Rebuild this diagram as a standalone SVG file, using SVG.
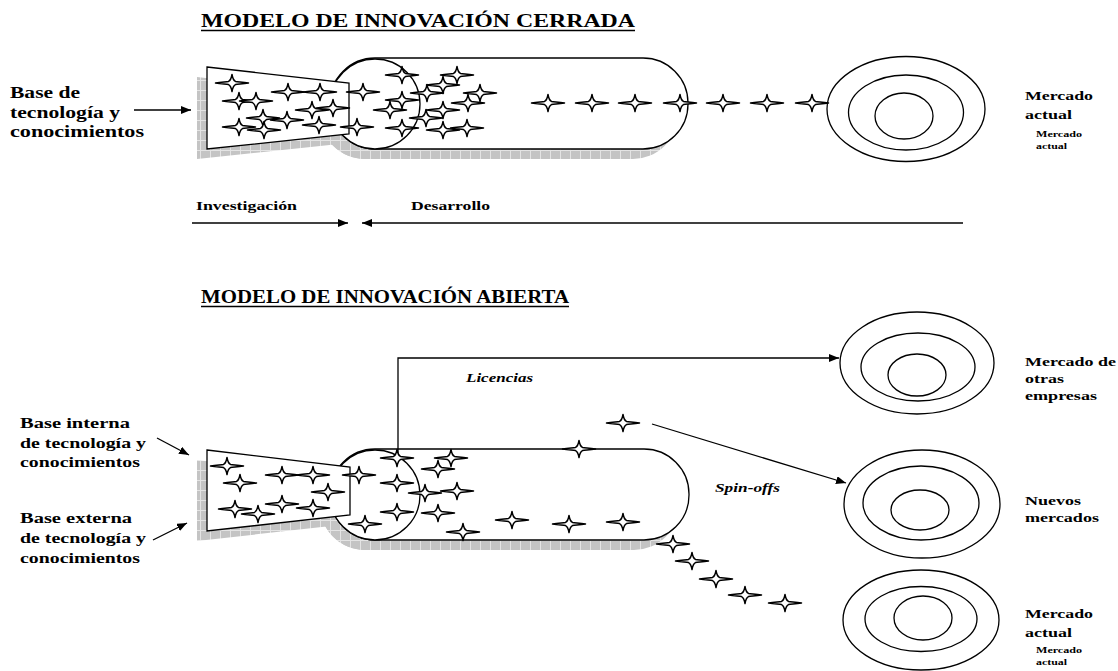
<svg xmlns="http://www.w3.org/2000/svg" xmlns:xlink="http://www.w3.org/1999/xlink" width="1118" height="671" viewBox="0 0 1118 671">
  <defs>
    <style>
      .t { font-family: "Liberation Serif", "Times New Roman", serif; font-weight: bold; fill: #000; }
      .ti { font-style: italic; }
      .ln { stroke: #000; stroke-width: 1.3; fill: none; }
      .shape { fill: #fff; stroke: #000; stroke-width: 1.3; }
      .shadow { fill: url(#grid); stroke: none; }
    </style>
    <pattern id="grid" width="10" height="10" patternUnits="userSpaceOnUse">
      <rect width="10" height="10" fill="#c4c4c4"/>
      <path d="M0 0.5H10M0.5 0V10" stroke="#e4e4e4" stroke-width="1"/>
    </pattern>
    <marker id="arr" viewBox="0 0 10 8" refX="10" refY="4" markerWidth="10" markerHeight="8" markerUnits="userSpaceOnUse" orient="auto">
      <path d="M0 0L10 4L0 8Z" fill="#000"/>
    </marker>
    <!-- four-point spark used for ideas / projects: long flat arms, small pointed centre -->
    <path id="star" d="M-16.5,0 C-10,-1 -6,-1.1 -3.5,-1.6 C-1.6,-2.6 -0.6,-5 0,-8.5 C0.6,-5 1.6,-2.6 3.5,-1.6 C6,-1.1 10,-1 16.5,0 C10,1 6,1.1 3.5,1.6 C1.6,2.6 0.6,5 0,8.5 C-0.6,5 -1.6,2.6 -3.5,1.6 C-6,1.1 -10,1 -16.5,0 Z" fill="#fff" stroke="#000" stroke-width="1.5" stroke-linejoin="round"/>
  </defs>

  <rect width="1118" height="671" fill="#fff"/>

  <!-- ================= CLOSED INNOVATION ================= -->
  <g id="title-cerrada">
    <text class="t" x="201" y="27" font-size="19" textLength="434" lengthAdjust="spacingAndGlyphs">MODELO DE INNOVACIÓN CERRADA</text>
    <line class="ln" x1="201" y1="30.5" x2="635" y2="30.5" stroke-width="1.5"/>
  </g>

  <g id="base-cerrada">
    <text class="t" font-size="16" x="10" y="98" textLength="70" lengthAdjust="spacingAndGlyphs">Base de</text>
    <text class="t" font-size="16" x="10" y="118" textLength="110" lengthAdjust="spacingAndGlyphs">tecnología y</text>
    <text class="t" font-size="16" x="10" y="137" textLength="134" lengthAdjust="spacingAndGlyphs">conocimientos</text>
  </g>

  <g id="funnel-cerrada">
    <g transform="translate(-10,10)">
      <rect class="shadow" x="330" y="58" width="358" height="91" rx="45" ry="45"/>
      <circle class="shadow" cx="375" cy="104" r="45"/>
      <polygon class="shadow" points="207,67 349,83 349,134 207,149"/>
    </g>
    <rect class="shape" x="330" y="58" width="358" height="91" rx="45" ry="45"/>
    <circle class="shape" cx="375" cy="104" r="45"/>
    <polygon class="shape" points="207,67 349,83 349,134 207,149"/>
  </g>

  <g id="mercado-actual-1">
    <ellipse class="shape" cx="906" cy="109" rx="79" ry="52.5"/>
    <ellipse class="shape" cx="906" cy="112.5" rx="57.5" ry="37.5"/>
    <ellipse class="shape" cx="904" cy="116" rx="29" ry="23"/>
    <text class="t" font-size="13.5" x="1025" y="100" textLength="68" lengthAdjust="spacingAndGlyphs">Mercado</text>
    <text class="t" font-size="13.5" x="1025" y="119" textLength="47" lengthAdjust="spacingAndGlyphs">actual</text>
    <text class="t" font-size="9" x="1036" y="137" textLength="46" lengthAdjust="spacingAndGlyphs">Mercado</text>
    <text class="t" font-size="9" x="1036" y="149" textLength="31" lengthAdjust="spacingAndGlyphs">actual</text>
  </g>

  <g id="stars-cerrada">
    <use xlink:href="#star" x="232" y="83"/>
    <use xlink:href="#star" x="239" y="101"/>
    <use xlink:href="#star" x="256" y="101"/>
    <use xlink:href="#star" x="288" y="92"/>
    <use xlink:href="#star" x="320" y="92"/>
    <use xlink:href="#star" x="312" y="110"/>
    <use xlink:href="#star" x="333" y="108"/>
    <use xlink:href="#star" x="239" y="127"/>
    <use xlink:href="#star" x="263" y="118"/>
    <use xlink:href="#star" x="264" y="130"/>
    <use xlink:href="#star" x="287" y="120"/>
    <use xlink:href="#star" x="319" y="125"/>
    <use xlink:href="#star" x="363" y="92"/>
    <use xlink:href="#star" x="357" y="127"/>
    <use xlink:href="#star" x="402" y="75"/>
    <use xlink:href="#star" x="402" y="100"/>
    <use xlink:href="#star" x="390" y="110"/>
    <use xlink:href="#star" x="402" y="128"/>
    <use xlink:href="#star" x="457" y="75"/>
    <use xlink:href="#star" x="443" y="85"/>
    <use xlink:href="#star" x="427" y="93"/>
    <use xlink:href="#star" x="480" y="93"/>
    <use xlink:href="#star" x="468" y="103"/>
    <use xlink:href="#star" x="443" y="110"/>
    <use xlink:href="#star" x="426" y="118"/>
    <use xlink:href="#star" x="443" y="130"/>
    <use xlink:href="#star" x="467" y="128"/>
    <use xlink:href="#star" x="548" y="103"/>
    <use xlink:href="#star" x="592" y="103"/>
    <use xlink:href="#star" x="635" y="103"/>
    <use xlink:href="#star" x="680" y="103"/>
    <use xlink:href="#star" x="723" y="103"/>
    <use xlink:href="#star" x="767" y="103"/>
    <use xlink:href="#star" x="812" y="103"/>
  </g>

  <g id="fases">
    <text class="t" font-size="13" x="196" y="210" textLength="101" lengthAdjust="spacingAndGlyphs">Investigación</text>
    <text class="t" font-size="13" x="411" y="210" textLength="79" lengthAdjust="spacingAndGlyphs">Desarrollo</text>
  </g>

  <!-- ================= OPEN INNOVATION ================= -->
  <g id="title-abierta">
    <text class="t" x="201" y="303" font-size="19" textLength="368" lengthAdjust="spacingAndGlyphs">MODELO DE INNOVACIÓN ABIERTA</text>
    <line class="ln" x1="201" y1="306.5" x2="569" y2="306.5" stroke-width="1.5"/>
  </g>

  <g id="base-interna">
    <text class="t" font-size="15.5" x="20" y="428" textLength="110" lengthAdjust="spacingAndGlyphs">Base interna</text>
    <text class="t" font-size="15.5" x="20" y="448" textLength="126" lengthAdjust="spacingAndGlyphs">de tecnología y</text>
    <text class="t" font-size="15.5" x="20" y="467" textLength="120" lengthAdjust="spacingAndGlyphs">conocimientos</text>
  </g>

  <g id="base-externa">
    <text class="t" font-size="15.5" x="20" y="523" textLength="112" lengthAdjust="spacingAndGlyphs">Base externa</text>
    <text class="t" font-size="15.5" x="20" y="543" textLength="126" lengthAdjust="spacingAndGlyphs">de tecnología y</text>
    <text class="t" font-size="15.5" x="20" y="563" textLength="120" lengthAdjust="spacingAndGlyphs">conocimientos</text>
  </g>

  <g id="funnel-abierta">
    <g transform="translate(-10,10)">
      <rect class="shadow" x="330" y="449" width="359" height="91" rx="45" ry="45"/>
      <circle class="shadow" cx="375" cy="495" r="45"/>
      <polygon class="shadow" points="207,450 350,467 350,515 207,531"/>
    </g>
    <rect class="shape" x="330" y="449" width="359" height="91" rx="45" ry="45"/>
    <circle class="shape" cx="375" cy="495" r="45"/>
    <polygon class="shape" points="207,450 350,467 350,515 207,531"/>
  </g>

  <g id="mercado-otras">
    <ellipse class="shape" cx="917" cy="363" rx="77" ry="51"/>
    <ellipse class="shape" cx="918" cy="367" rx="57" ry="34"/>
    <ellipse class="shape" cx="917" cy="375" rx="29" ry="21"/>
    <text class="t" font-size="13.5" x="1025" y="366" textLength="91" lengthAdjust="spacingAndGlyphs">Mercado de</text>
    <text class="t" font-size="13.5" x="1025" y="383" textLength="39" lengthAdjust="spacingAndGlyphs">otras</text>
    <text class="t" font-size="13.5" x="1025" y="400" textLength="72" lengthAdjust="spacingAndGlyphs">empresas</text>
  </g>

  <g id="nuevos-mercados">
    <ellipse class="shape" cx="922" cy="504" rx="78" ry="54"/>
    <ellipse class="shape" cx="921" cy="503" rx="58" ry="37"/>
    <ellipse class="shape" cx="920" cy="510" rx="29" ry="20"/>
    <text class="t" font-size="13.5" x="1025" y="505" textLength="56" lengthAdjust="spacingAndGlyphs">Nuevos</text>
    <text class="t" font-size="13.5" x="1025" y="522" textLength="74" lengthAdjust="spacingAndGlyphs">mercados</text>
  </g>

  <g id="mercado-actual-2">
    <ellipse class="shape" cx="921" cy="620" rx="78" ry="50"/>
    <ellipse class="shape" cx="921" cy="619" rx="56" ry="32.5"/>
    <ellipse class="shape" cx="923" cy="618" rx="29" ry="22"/>
    <text class="t" font-size="13.5" x="1025" y="618" textLength="68" lengthAdjust="spacingAndGlyphs">Mercado</text>
    <text class="t" font-size="13.5" x="1025" y="637" textLength="47" lengthAdjust="spacingAndGlyphs">actual</text>
    <text class="t" font-size="9" x="1036" y="653" textLength="46" lengthAdjust="spacingAndGlyphs">Mercado</text>
    <text class="t" font-size="9" x="1036" y="665" textLength="31" lengthAdjust="spacingAndGlyphs">actual</text>
  </g>

  <!-- connectors -->
  <g id="connectors">
    <line class="ln" x1="134" y1="110" x2="191" y2="110" marker-end="url(#arr)"/>
    <line class="ln" x1="192" y1="223" x2="348" y2="223" marker-end="url(#arr)"/>
    <line class="ln" x1="963" y1="223" x2="362" y2="223" marker-end="url(#arr)"/>
    <line class="ln" x1="157" y1="438" x2="189" y2="455" marker-end="url(#arr)"/>
    <line class="ln" x1="153" y1="540" x2="187" y2="523" marker-end="url(#arr)"/>
    <polyline class="ln" points="398,458 398,358 839,358" marker-end="url(#arr)"/>
    <line class="ln" x1="652" y1="424" x2="846" y2="483" marker-end="url(#arr)"/>
  </g>

  <g id="flujo-labels">
    <text class="t ti" font-size="13" x="466" y="382" textLength="67" lengthAdjust="spacingAndGlyphs">Licencias</text>
    <text class="t ti" font-size="13" x="715" y="492" textLength="65" lengthAdjust="spacingAndGlyphs">Spin-offs</text>
  </g>

  <g id="stars-abierta">
    <use xlink:href="#star" x="227" y="466"/>
    <use xlink:href="#star" x="240" y="483"/>
    <use xlink:href="#star" x="282" y="475"/>
    <use xlink:href="#star" x="313" y="475"/>
    <use xlink:href="#star" x="328" y="492"/>
    <use xlink:href="#star" x="235" y="509"/>
    <use xlink:href="#star" x="258" y="514"/>
    <use xlink:href="#star" x="282" y="504"/>
    <use xlink:href="#star" x="313" y="508"/>
    <use xlink:href="#star" x="359" y="475"/>
    <use xlink:href="#star" x="365" y="524"/>
    <use xlink:href="#star" x="397" y="458"/>
    <use xlink:href="#star" x="397" y="483"/>
    <use xlink:href="#star" x="397" y="512"/>
    <use xlink:href="#star" x="451" y="458"/>
    <use xlink:href="#star" x="438" y="469"/>
    <use xlink:href="#star" x="425" y="493"/>
    <use xlink:href="#star" x="457" y="491"/>
    <use xlink:href="#star" x="438" y="513"/>
    <use xlink:href="#star" x="463" y="532"/>
    <use xlink:href="#star" x="512" y="520"/>
    <use xlink:href="#star" x="569" y="524"/>
    <use xlink:href="#star" x="623" y="522"/>
    <use xlink:href="#star" x="579" y="449"/>
    <use xlink:href="#star" x="623" y="423"/>
    <use xlink:href="#star" x="673" y="544"/>
    <use xlink:href="#star" x="692" y="561"/>
    <use xlink:href="#star" x="716" y="579"/>
    <use xlink:href="#star" x="745" y="595"/>
    <use xlink:href="#star" x="785" y="603"/>
  </g>
</svg>
